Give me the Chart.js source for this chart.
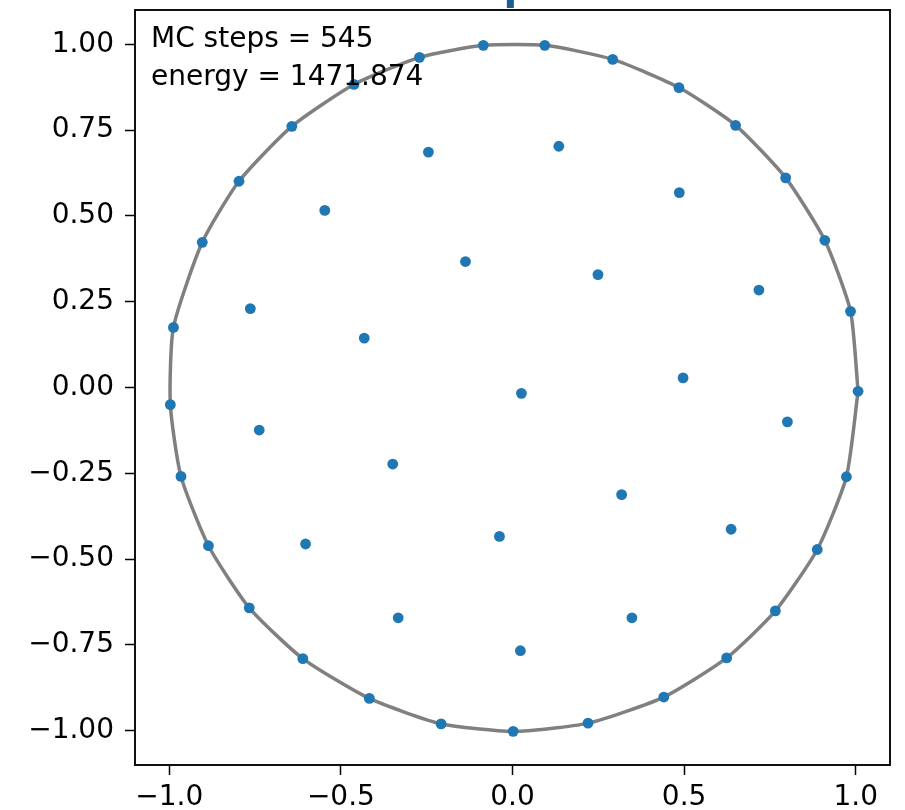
<!DOCTYPE html>
<html>
<head>
<meta charset="utf-8">
<script src="https://cdn.jsdelivr.net/npm/chart.js@4/dist/chart.umd.min.js"></script>
<style>
  html, body { margin: 0; padding: 0; background: #fff; }
  canvas { display: block; }
</style>
</head>
<body>
<canvas id="disk" width="905" height="810"></canvas>
<script>
// particles pushed out onto the rim, counter-clockwise from the right
const rimX = [1.007, 0.985, 0.910, 0.796, 0.650, 0.485, 0.292, 0.094, -0.085, -0.271,
  -0.462, -0.643, -0.797, -0.904, -0.988, -0.997, -0.966, -0.886, -0.767, -0.611,
  -0.417, -0.208, 0.002, 0.220, 0.441, 0.624, 0.766, 0.888, 0.973];
const rimY = [-0.011, 0.222, 0.429, 0.611, 0.764, 0.874, 0.956, 0.997, 0.997, 0.962,
  0.883, 0.761, 0.601, 0.423, 0.175, -0.050, -0.259, -0.461, -0.642, -0.790,
  -0.906, -0.980, -1.002, -0.978, -0.902, -0.788, -0.651, -0.472, -0.260];

// particles left inside the disk
const innerX = [-0.245, -0.547, -0.137, -0.764, -0.432, 0.135, 0.486, 0.249, 0.718, 0.497,
  0.026, 0.801, 0.318, 0.637, 0.348, 0.023, -0.738, -0.349, -0.038, -0.603, -0.333];
const innerY = [0.686, 0.516, 0.367, 0.230, 0.144, 0.703, 0.568, 0.329, 0.284, 0.028,
  -0.017, -0.100, -0.312, -0.413, -0.671, -0.767, -0.124, -0.223, -0.434, -0.456, -0.671];

const xTicks = [-1.0, -0.5, 0.0, 0.5, 1.0];
const yTicks = [-1.0, -0.75, -0.5, -0.25, 0.0, 0.25, 0.5, 0.75, 1.0];

const mcSteps = 545;
const energy = 1471.874;

const rim = rimX.map((x, i) => ({ x, y: rimY[i] }));
const inner = innerX.map((x, i) => ({ x, y: innerY[i] }));
const rimLoop = [...rim, rim[0]];

const fmt = (v, d) => v.toFixed(d).replace('-', '\u2212');

// box around the axes, the counters in the corner and the clipped title
const frame = {
  id: 'frame',
  afterDraw(chart) {
    const { ctx, chartArea: a } = chart;
    ctx.save();
    ctx.strokeStyle = '#111';
    ctx.lineWidth = 2;
    ctx.strokeRect(a.left, a.top, a.right - a.left, a.bottom - a.top);

    ctx.fillStyle = '#000';
    ctx.font = '28px "DejaVu Sans"';
    ctx.textAlign = 'left';
    ctx.textBaseline = 'alphabetic';
    ctx.fillText('MC steps = ' + mcSteps, a.left + 16, a.top + 37);
    ctx.fillText('energy = ' + energy.toFixed(3), a.left + 16, a.top + 75);

    ctx.fillStyle = '#1b5e91';
    ctx.font = 'bold 40px "DejaVu Sans"';
    ctx.fillText('p', (a.left + a.right) / 2 - 9, -1);
    ctx.restore();
  }
};

const tickFont = { family: 'DejaVu Sans', size: 28 };

new Chart(document.getElementById('disk'), {
  type: 'scatter',
  data: {
    datasets: [
      {
        label: 'particles',
        data: [...rim, ...inner],
        backgroundColor: '#1f77b4',
        borderWidth: 0,
        pointRadius: 5.4,
        order: 0
      },
      {
        label: 'rim',
        data: rimLoop,
        showLine: true,
        borderColor: '#808080',
        borderWidth: 3.5,
        pointRadius: 0,
        tension: 0.2,
        fill: false,
        order: 1
      }
    ]
  },
  options: {
    responsive: false,
    animation: false,
    events: [],
    layout: { padding: { top: 10, right: 15, left: 0, bottom: 0 } },
    plugins: {
      legend: { display: false },
      tooltip: { enabled: false }
    },
    scales: {
      x: {
        type: 'linear',
        min: -1.1,
        max: 1.1,
        afterFit(s) { s.height = 45; s.paddingLeft = 0; s.paddingRight = 0; },
        afterBuildTicks(s) { s.ticks = xTicks.map(v => ({ value: v })); },
        grid: { drawOnChartArea: false, tickLength: 10, tickWidth: 1.5, tickColor: '#000' },
        border: { display: false },
        ticks: {
          padding: 6,
          color: '#000',
          font: tickFont,
          maxRotation: 0,
          autoSkip: false,
          callback: v => fmt(v, 1)
        }
      },
      y: {
        type: 'linear',
        min: -1.1,
        max: 1.1,
        afterFit(s) { s.width = 135; s.paddingTop = 0; s.paddingBottom = 0; },
        afterBuildTicks(s) { s.ticks = yTicks.map(v => ({ value: v })); },
        grid: { drawOnChartArea: false, tickLength: 10, tickWidth: 1.5, tickColor: '#000' },
        border: { display: false },
        ticks: {
          padding: 11,
          color: '#000',
          font: tickFont,
          autoSkip: false,
          callback: v => fmt(v, 2)
        }
      }
    }
  },
  plugins: [frame]
});
</script>
</body>
</html>
